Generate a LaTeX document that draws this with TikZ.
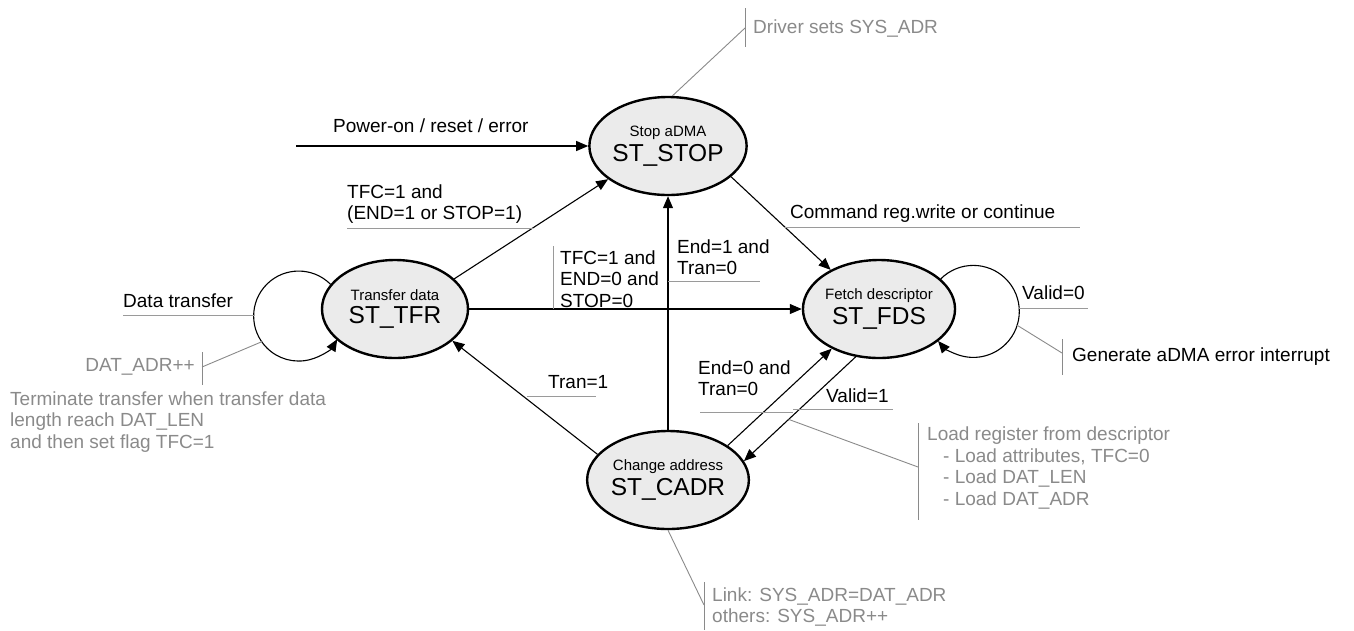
\documentclass[tikz,border=0pt]{standalone}
\usepackage{fontspec}
\setmainfont{Liberation Sans}
\usepackage{tikz}
\usetikzlibrary{arrows.meta,positioning,shapes.geometric,calc}
\definecolor{stategray}{HTML}{EBEBEB}
\definecolor{notegray}{HTML}{8A8A8A}
\definecolor{linegray}{HTML}{9A9A9A}

\begin{document}
\begin{tikzpicture}[x=1pt,y=-1pt,
  state/.style={draw,ellipse,line width=2.4pt,fill=stategray,minimum width=146pt,minimum height=98pt,inner sep=0pt,align=center},
  arr/.style={-{Triangle[length=12pt,width=10pt]},line width=1.1pt},
  lbl/.style={font=\fontsize{19}{21.5}\selectfont,align=left,inner sep=0pt},
  note/.style={lbl,text=notegray},
  uline/.style={draw=linegray,line width=1pt},
  lead/.style={draw=notegray,line width=0.9pt}]
\useasboundingbox (0,0) rectangle (1354,630);
% states
\node[state] (stop) at (668,146) {\fontsize{15}{17}\selectfont Stop aDMA\\[4pt]\fontsize{24.5}{27}\selectfont ST\_STOP};
\node[state] (tfr) at (395,309) {\fontsize{15}{17}\selectfont Transfer data\\[4pt]\fontsize{24.5}{27}\selectfont ST\_TFR};
\node[state,minimum width=152pt] (fds) at (879,309) {\fontsize{15}{17}\selectfont Fetch descriptor\\[4pt]\fontsize{24.5}{27}\selectfont ST\_FDS};
\node[state] (cadr) at (668,480) {\fontsize{15}{17}\selectfont Change address\\[4pt]\fontsize{24.5}{27}\selectfont ST\_CADR};
\coordinate (pwr) at (296,146);
\coordinate (tloop) at (300,317);
\coordinate (floop) at (972,312);
% transitions
\draw[arr] (pwr) -- (stop);
\draw[arr] (tfr.27) -- (stop.209);
\draw[arr] (stop.-26) -- (fds.141);
\draw[arr] (tfr) -- (fds);
\draw[arr] (cadr) -- (stop);
\draw[arr] (cadr.160) -- (tfr.-29);
\draw[arr] (cadr.30) -- (fds.220);
\draw[arr] (fds.244) -- (cadr.14);
\draw[arr] (tfr.159) arc[start angle=45,end angle=329,radius=45pt];
\draw[arr] (fds.26) arc[start angle=135,end angle=-140,radius=46pt];
% transition labels
\node[lbl,anchor=west] (pwrlbl) at (333,126) {Power-on / reset / error};
\node[lbl,anchor=west] (endstop) at (347,204) {TFC=1 and\\(END=1 or STOP=1)};
\draw[uline] (347,228) -- (533,228);
\node[lbl,anchor=west] (cmd) at (790,214) {Command reg.write or continue};
\draw[uline] (784,227) -- (1080,227);
\draw[uline] (553,246) -- (553,309);
\node[lbl,anchor=west] (tfcdone) at (560,279) {TFC=1 and\\END=0 and\\STOP=0};
\node[lbl,anchor=west] (endone) at (677,257) {End=1 and\\Tran=0};
\draw[uline] (668,281) -- (760,281);
\node[lbl,anchor=west] (tranone) at (548,382) {Tran=1};
\draw[uline] (527,396) -- (596,396);
\node[lbl,anchor=west] (endzero) at (698,378) {End=0 and\\Tran=0};
\draw[uline] (700,412) -- (793,412);
\node[lbl,anchor=west] (validone) at (826,396) {Valid=1};
\draw[uline] (793,409) -- (893,409);
\node[lbl,anchor=west] (validzero) at (1022,293) {Valid=0};
\draw[uline] (1018,308) -- (1088,308);
\node[lbl,anchor=west] (xfer) at (123,301) {Data transfer};
\draw[uline] (123,315) -- (255,315);
% notes
\coordinate (drvbar) at (745,28);
\draw[lead] (stop.85) -- (drvbar);
\draw[lead] (745,8) -- (745,47);
\node[note,anchor=west] (drv) at (753,28) {Driver sets SYS\_ADR};
\coordinate (datbar) at (202,367);
\draw[lead] ($(tloop)+(213:45pt)$) -- (datbar);
\draw[lead] (202,352) -- (202,385);
\node[note,anchor=east] (datinc) at (195,367) {DAT\_ADR++};
\node[note,anchor=west] (term) at (10,422) {Terminate transfer when transfer data\\length reach DAT\_LEN\\and then set flag TFC=1};
\coordinate (errbar) at (1062,353);
\draw[lead] ($(floop)+(-16:46pt)$) -- (errbar);
\draw[lead] (1062,339) -- (1062,375);
\node[lbl,anchor=west] (err) at (1072,357) {Generate aDMA error interrupt};
\coordinate (loadbar) at (918,467);
\draw[lead] ($(fds.244)!0.6!(cadr.14)$) -- (loadbar);
\draw[lead] (918,423) -- (918,520);
\node[note,anchor=west] (load) at (927,468) {Load register from descriptor\\\hspace*{16pt}- Load attributes, TFC=0\\\hspace*{16pt}- Load DAT\_LEN\\\hspace*{16pt}- Load DAT\_ADR};
\coordinate (linkbar) at (704,605);
\draw[lead] (cadr.south) -- (linkbar);
\draw[lead] (704,582) -- (704,630);
\node[note,anchor=west] (link) at (712,607) {Link: SYS\_ADR=DAT\_ADR\\others: SYS\_ADR++};
\end{tikzpicture}
\end{document}
